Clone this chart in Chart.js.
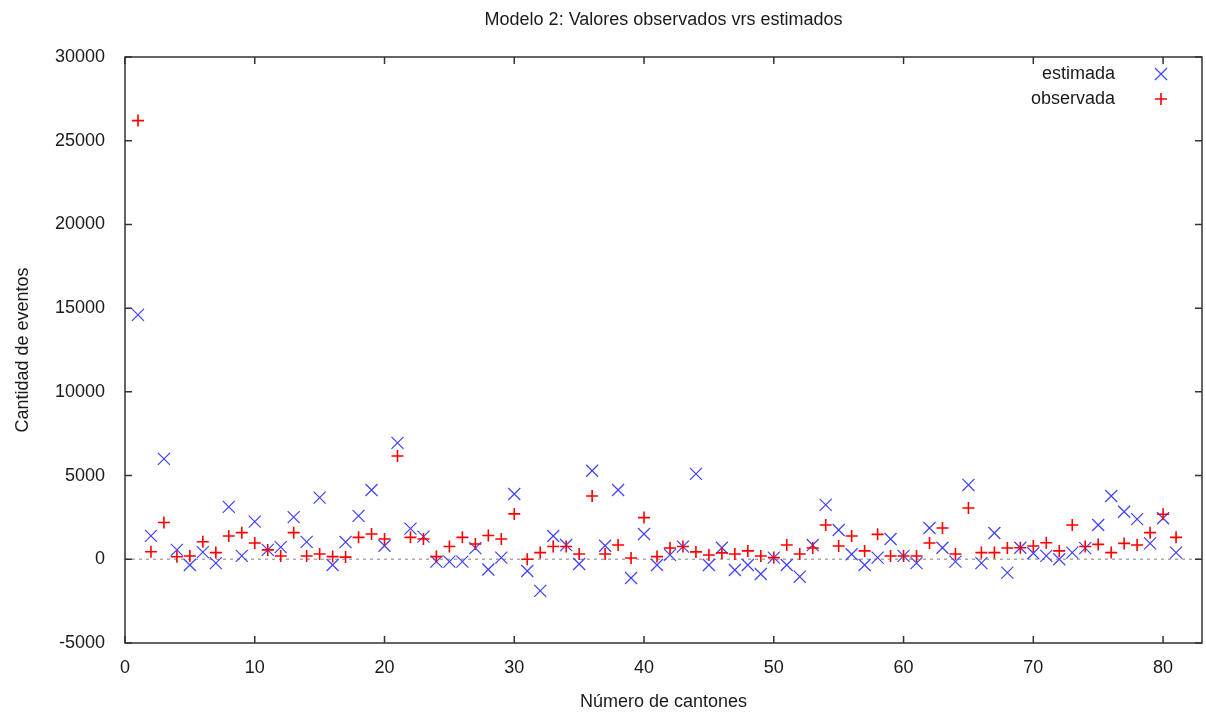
<!DOCTYPE html>
<html>
<head>
<meta charset="utf-8">
<script src="https://cdn.jsdelivr.net/npm/chart.js@4/dist/chart.umd.min.js"></script>
<style>
  html, body { margin: 0; padding: 0; background: #fff; }
  #grafico { display: block; }
</style>
</head>
<body>
<canvas id="grafico" width="1206" height="713"></canvas>
<script>
// Datos (modelo 2)
const cantones = [1, 2, 3, 4, 5, 6, 7, 8, 9, 10, 11, 12, 13, 14, 15, 16, 17, 18, 19, 20,
  21, 22, 23, 24, 25, 26, 27, 28, 29, 30, 31, 32, 33, 34, 35, 36, 37, 38, 39, 40,
  41, 42, 43, 44, 45, 46, 47, 48, 49, 50, 51, 52, 53, 54, 55, 56, 57, 58, 59, 60,
  61, 62, 63, 64, 65, 66, 67, 68, 69, 70, 71, 72, 73, 74, 75, 76, 77, 78, 79, 80, 81];

const observada = [26200, 450, 2200, 150, 200, 1050, 400, 1390, 1590, 970,
  560, 200, 1590, 200, 320, 160, 130, 1310, 1510, 1210,
  6170, 1310, 1210, 160, 760, 1310, 910, 1420, 1210, 2710,
  0, 400, 760, 760, 320, 3780, 320, 850, 80, 2490,
  160, 670, 760, 440, 260, 380, 320, 500, 200, 100,
  850, 320, 670, 2050, 790, 1390, 500, 1490, 200, 200,
  200, 970, 1870, 320, 3060, 400, 400, 670, 690, 790,
  990, 500, 2050, 760, 890, 400, 950, 850, 1590, 2690, 1310];

const estimada = [14600, 1400, 6000, 560, -340, 430, -230, 3130, 200, 2250,
  560, 730, 2520, 1040, 3680, -340, 1030, 2590, 4140, 810,
  6950, 1830, 1350, -140, -140, -140, 670, -610, 100, 3900,
  -700, -1890, 1390, 850, -280, 5290, 810, 4140, -1120, 1510,
  -340, 260, 760, 5100, -340, 690, -640, -340, -880, 100,
  -340, -1040, 850, 3250, 1750, 300, -340, 100, 1210, 200,
  -230, 1870, 690, -140, 4440, -230, 1570, -800, 690, 360,
  200, 0, 400, 670, 2050, 3780, 2840, 2400, 950, 2450, 400];

const etiquetasSerie = ['estimada', 'observada'];

const colores = {
  texto: '#1a1a1a',
  borde: '#333333',
  azul: '#4040ff',
  rojo: '#ff0000',
  cero: '#aaaaaa'
};

const fuente = 'Liberation Sans, Arial, sans-serif';

// Borde tipo gnuplot, marcas hacia dentro, linea del cero y leyenda interna
const marcoGnuplot = {
  id: 'marcoGnuplot',
  beforeDatasetsDraw(chart) {
    const { ctx, chartArea: a, scales } = chart;
    const y0 = scales.y.getPixelForValue(0);
    ctx.save();
    ctx.strokeStyle = colores.cero;
    ctx.lineWidth = 1.5;
    ctx.setLineDash([3, 4]);
    ctx.beginPath();
    ctx.moveTo(a.left, y0);
    ctx.lineTo(a.right, y0);
    ctx.stroke();
    ctx.restore();
  },
  afterDraw(chart) {
    const { ctx, chartArea: a, scales } = chart;
    const largo = 7;
    ctx.save();
    ctx.strokeStyle = colores.borde;
    ctx.lineWidth = 1.5;
    ctx.strokeRect(a.left, a.top, a.right - a.left, a.bottom - a.top);
    ctx.beginPath();
    scales.x.ticks.forEach((t, i) => {
      const px = scales.x.getPixelForTick(i);
      ctx.moveTo(px, a.bottom); ctx.lineTo(px, a.bottom - largo);
      ctx.moveTo(px, a.top); ctx.lineTo(px, a.top + largo);
    });
    scales.y.ticks.forEach((t, i) => {
      const py = scales.y.getPixelForTick(i);
      ctx.moveTo(a.left, py); ctx.lineTo(a.left + largo, py);
      ctx.moveTo(a.right, py); ctx.lineTo(a.right - largo, py);
    });
    ctx.stroke();

    // leyenda
    ctx.font = '18px ' + fuente;
    ctx.fillStyle = colores.texto;
    ctx.textAlign = 'right';
    ctx.textBaseline = 'middle';
    const filas = [
      { texto: etiquetasSerie[0], estilo: 'crossRot', color: colores.azul, radio: 8.5, ancho: 1.2 },
      { texto: etiquetasSerie[1], estilo: 'cross', color: colores.rojo, radio: 6, ancho: 1.6 }
    ];
    filas.forEach((f, i) => {
      const y = a.top + 17 + i * 25;
      const x = a.right - 41;
      ctx.fillText(f.texto, a.right - 87, y);
      ctx.strokeStyle = f.color;
      ctx.lineWidth = f.ancho;
      ctx.beginPath();
      if (f.estilo === 'cross') {
        ctx.moveTo(x - f.radio, y); ctx.lineTo(x + f.radio, y);
        ctx.moveTo(x, y - f.radio); ctx.lineTo(x, y + f.radio);
      } else {
        const d = f.radio * Math.SQRT1_2;
        ctx.moveTo(x - d, y - d); ctx.lineTo(x + d, y + d);
        ctx.moveTo(x - d, y + d); ctx.lineTo(x + d, y - d);
      }
      ctx.stroke();
    });
    ctx.restore();
  }
};

const ctx = document.getElementById('grafico').getContext('2d');

new Chart(ctx, {
  type: 'scatter',
  data: {
    datasets: [
      {
        label: etiquetasSerie[0],
        data: cantones.map((c, i) => ({ x: c, y: estimada[i] })),
        pointStyle: 'crossRot',
        pointRadius: 8.5,
        borderColor: colores.azul,
        backgroundColor: colores.azul,
        borderWidth: 1.2,
        order: 1
      },
      {
        label: etiquetasSerie[1],
        data: cantones.map((c, i) => ({ x: c, y: observada[i] })),
        pointStyle: 'cross',
        pointRadius: 6,
        borderColor: colores.rojo,
        backgroundColor: colores.rojo,
        borderWidth: 1.6,
        order: 0
      }
    ]
  },
  options: {
    responsive: false,
    animation: false,
    events: [],
    // sin relleno automatico por el tamaño de los puntos
    layout: { autoPadding: false, padding: { left: 0, right: 4, top: 0, bottom: 0 } },
    plugins: {
      legend: { display: false },
      tooltip: { enabled: false },
      title: {
        display: true,
        fullSize: false,
        text: 'Modelo 2: Valores observados vrs estimados',
        color: colores.texto,
        font: { family: fuente, size: 18, weight: 'normal' },
        padding: { top: 9, bottom: 26.4 }
      }
    },
    scales: {
      x: {
        type: 'linear',
        min: 0,
        max: 83,
        grid: { display: false, drawTicks: false },
        border: { display: false },
        ticks: {
          stepSize: 10,
          includeBounds: false,
          color: colores.texto,
          padding: 14,
          maxRotation: 0,
          font: { family: fuente, size: 18 },
          callback: (v) => String(v)
        },
        title: {
          display: true,
          text: 'Número de cantones',
          color: colores.texto,
          font: { family: fuente, size: 18 },
          padding: { top: 0, bottom: 0 }
        },
        afterFit(scale) { scale.height = 70; }
      },
      y: {
        type: 'linear',
        min: -5000,
        max: 30000,
        grid: { display: false, drawTicks: false },
        border: { display: false },
        ticks: {
          stepSize: 5000,
          color: colores.texto,
          padding: 20,
          font: { family: fuente, size: 18 },
          callback: (v) => String(v)
        },
        title: {
          display: true,
          text: 'Cantidad de eventos',
          color: colores.texto,
          font: { family: fuente, size: 18 },
          padding: { top: 12, bottom: 0 }
        },
        afterFit(scale) { scale.width = 125; }
      }
    }
  },
  plugins: [marcoGnuplot]
});
</script>
</body>
</html>
